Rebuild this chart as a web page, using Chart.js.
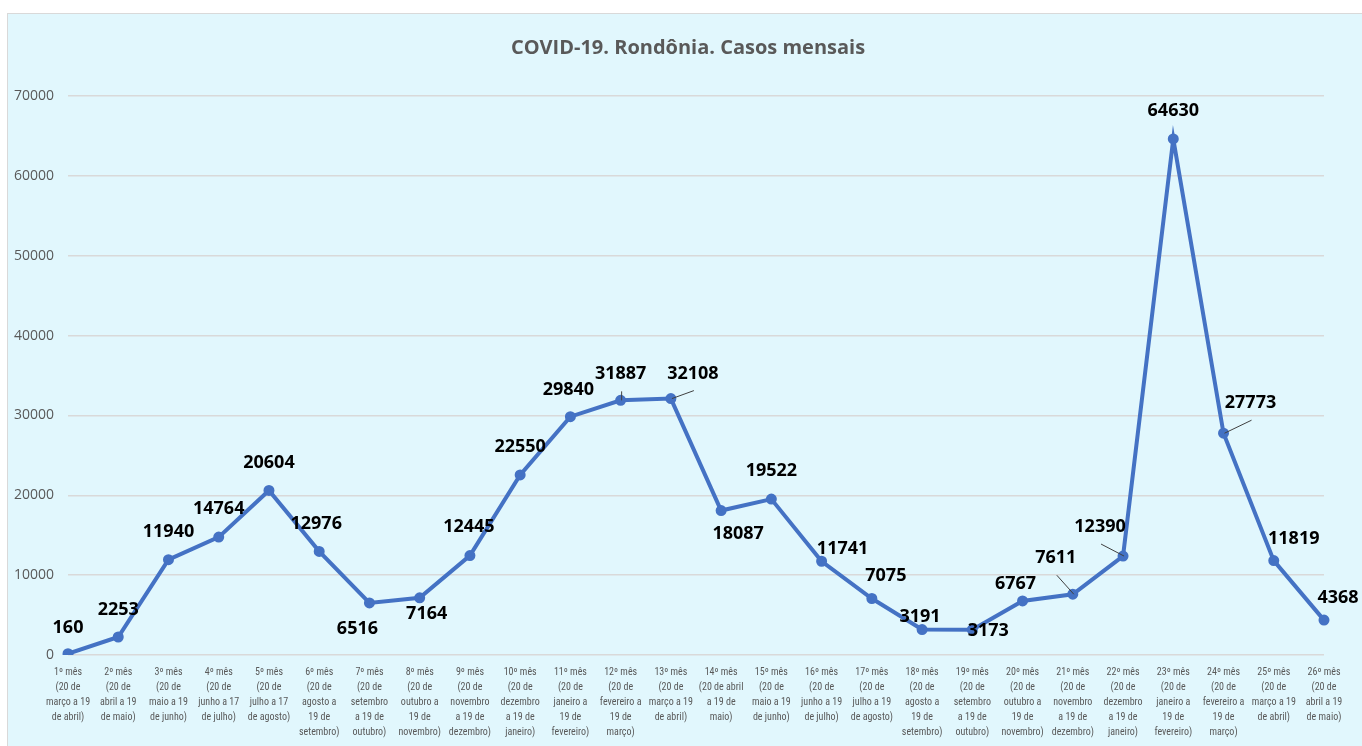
<!DOCTYPE html>
<html>
<head>
<meta charset="utf-8">
<script src="https://cdn.jsdelivr.net/npm/chart.js@4"></script>
<style>
html,body{margin:0;padding:0;background:#ffffff;}
#wrap{position:absolute;left:0;top:0;width:1362px;height:746px;}
</style>
</head>
<body>
<div id="wrap"><canvas id="c" width="1362" height="746"></canvas></div>
<script>
// ---- data ----
const monthLabels = [
  ["1º mês","(20 de","março a 19","de abril)"],
  ["2º mês","(20 de","abril a 19","de maio)"],
  ["3º mês","(20 de","maio a 19","de junho)"],
  ["4º mês","(20 de","junho a 17","de julho)"],
  ["5º mês","(20 de","julho a 17","de agosto)"],
  ["6º mês","(20 de","agosto a","19 de","setembro)"],
  ["7º mês","(20 de","setembro","a 19 de","outubro)"],
  ["8º mês","(20 de","outubro a","19 de","novembro)"],
  ["9º mês","(20 de","novembro","a 19 de","dezembro)"],
  ["10º mês","(20 de","dezembro","a 19 de","janeiro)"],
  ["11º mês","(20 de","janeiro a","19 de","fevereiro)"],
  ["12º mês","(20 de","fevereiro a","19 de","março)"],
  ["13º mês","(20 de","março a 19","de abril)"],
  ["14º mês","(20 de abril","a 19 de","maio)"],
  ["15º mês","(20 de","maio a 19","de junho)"],
  ["16º mês","(20 de","junho a 19","de julho)"],
  ["17º mês","(20 de","julho a 19","de agosto)"],
  ["18º mês","(20 de","agosto a","19 de","setembro)"],
  ["19º mês","(20 de","setembro","a 19 de","outubro)"],
  ["20º mês","(20 de","outubro a","19 de","novembro)"],
  ["21º mês","(20 de","novembro","a 19 de","dezembro)"],
  ["22º mês","(20 de","dezembro","a 19 de","janeiro)"],
  ["23º mês","(20 de","janeiro a","19 de","fevereiro)"],
  ["24º mês","(20 de","fevereiro a","19 de","março)"],
  ["25º mês","(20 de","março a 19","de abril)"],
  ["26º mês","(20 de","abril a 19","de maio)"]
];
const monthlyCases = [160, 2253, 11940, 14764, 20604, 12976, 6516, 7164, 12445, 22550, 29840, 31887, 32108,
  18087, 19522, 11741, 7075, 3191, 3173, 6767, 7611, 12390, 64630, 27773, 11819, 4368];
const yTicks = [0, 10000, 20000, 30000, 40000, 50000, 60000, 70000];
const chartTitle = "COVID-19. Rondônia. Casos mensais";

// ---- label placement (style only) ----
const labelDx = [0,0,0,0,0,-3,-12,7,-1,0,-2,0,22,17,0,21,14,-2,16,-7,-17,-23,0,27,20,14];
const labelDy = [-26,-27,-28,-28,-28,-28,26,16,-29,-28,-27,-26,-25,23,-28,-12,-23,-13,1,-17,-36,-29,-28,-30,-22,-22];
const leader  = [0,0,0,0,0,0,0,0,0,0,0,1,1,0,0,0,0,0,0,0,1,1,0,1,0,0];

const bgPlugin = {
  id:'bg',
  beforeDraw(chart){
    const ctx = chart.ctx;
    ctx.save();
    ctx.fillStyle = '#ffffff';
    ctx.fillRect(0,0,chart.width,chart.height);
    ctx.fillStyle = '#e1f7fd';
    ctx.fillRect(7,13,1362,740);
    ctx.strokeStyle = '#d9d9d9';
    ctx.lineWidth = 1;
    ctx.strokeRect(7.5,13.5,1362,740);
    ctx.fillStyle = '#595959';
    ctx.font = 'bold 20px "Open Sans", sans-serif';
    ctx.textAlign = 'center';
    ctx.textBaseline = 'middle';
    ctx.fillText(chartTitle, 688, 48);
    ctx.restore();
  }
};

const labelPlugin = {
  id:'vlabels',
  afterDatasetsDraw(chart){
    const ctx = chart.ctx;
    const meta = chart.getDatasetMeta(0);
    ctx.save();
    ctx.font = 'bold 18px "Open Sans", sans-serif';
    ctx.textAlign = 'center';
    ctx.textBaseline = 'middle';
    meta.data.forEach((pt, i) => {
      const cx = pt.x + labelDx[i];
      const cy = pt.y + labelDy[i];
      if (leader[i]) {
        ctx.strokeStyle = '#404040';
        ctx.lineWidth = 1;
        ctx.beginPath();
        ctx.moveTo(cx + 1, cy + 17);
        ctx.lineTo(pt.x + 1, pt.y);
        ctx.stroke();
      }
      ctx.fillStyle = '#000000';
      ctx.fillText(String(monthlyCases[i]), cx, cy);
    });
    ctx.restore();
  }
};

new Chart(document.getElementById('c'), {
  type:'line',
  data:{
    labels: monthLabels,
    datasets:[{
      data: monthlyCases,
      borderColor:'#4472c4',
      backgroundColor:'#4472c4',
      borderWidth:4,
      pointRadius:3.5,
      pointBackgroundColor:'#4472c4',
      pointBorderColor:'#4472c4',
      tension:0,
      fill:false
    }]
  },
  options:{
    responsive:false,
    animation:false,
    layout:{padding:{left:0,right:38,top:96,bottom:0}},
    plugins:{legend:{display:false},tooltip:{enabled:false},title:{display:false}},
    scales:{
      x:{
        offset:false,
        grid:{display:false,drawTicks:false},
        border:{display:false},
        ticks:{
          autoSkip:false,maxRotation:0,minRotation:0,padding:10,
          color:'#595959',
          font:{family:'"Roboto Condensed", "Liberation Sans Narrow", "Roboto", sans-serif',size:10,lineHeight:1.5}
        },
        afterFit(s){ s.height = 91; }
      },
      y:{
        min:0,max:70000,
        afterBuildTicks(s){ s.ticks = yTicks.map(v=>({value:v})); },
        grid:{color:'#d9d9d9',lineWidth:1.5,drawTicks:false},
        border:{display:false},
        ticks:{
          padding:14,color:'#595959',
          font:{family:'"Open Sans", sans-serif',size:14},
          callback:v=>String(v)
        },
        afterFit(s){ s.width = 68; }
      }
    }
  },
  plugins:[bgPlugin,labelPlugin]
});
</script>
</body>
</html>
